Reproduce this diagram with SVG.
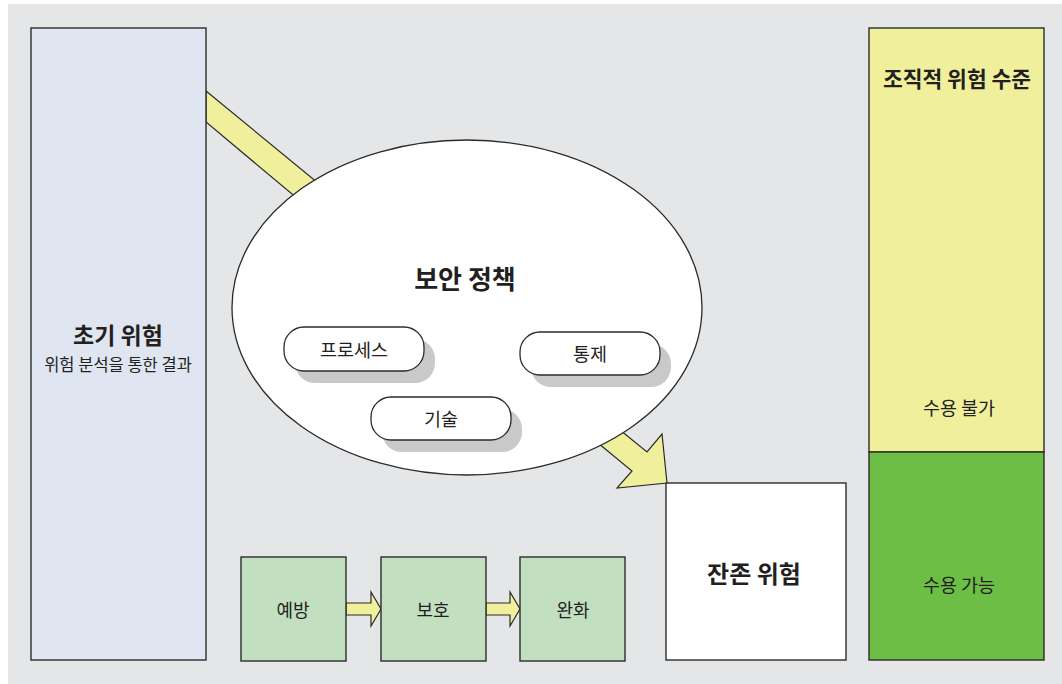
<svg xmlns="http://www.w3.org/2000/svg" width="1062" height="684" viewBox="0 0 1062 684">
<style>
.box{stroke:#2b2b2b;stroke-width:1.4}
.arrow{fill:#f0f09c;stroke:#2b2b2b;stroke-width:1.2;stroke-linejoin:miter}
.pill{fill:#ffffff;stroke:#2b2b2b;stroke-width:1.3}
.shadow{fill:#c8c9cb}
text{font-family:"Noto Sans CJK KR","Noto Sans",sans-serif;fill:#231f20;text-anchor:middle;dominant-baseline:central}
.b{font-weight:bold}
</style>
<rect x="0" y="0" width="1062" height="684" fill="#ffffff"/>
<rect x="8" y="4" width="1054" height="680" fill="#e5e6e8"/>

<g id="connectors">
  <polygon class="arrow" points="206,91 318,183 298,199 206,122"/>
  <polygon class="arrow" points="620,430 647,452 662,434 667,483 617,488 632,471 598,443"/>
  <polygon class="arrow" points="346,603 371,603 371,592 381,609 371,626 371,615 346,615"/>
  <polygon class="arrow" points="486,603 510,603 510,592 520,609 510,626 510,615 486,615"/>
</g>

<g id="initial-risk">
  <rect class="box" x="31" y="28" width="175" height="632" fill="#e0e6f1"/>
  <text class="b" x="118" y="334" font-size="23">초기 위험</text>
  <text x="118" y="364" font-size="16.5">위험 분석을 통한 결과</text>
</g>

<g id="security-policy">
  <ellipse cx="467" cy="307.5" rx="235" ry="167.5" fill="#ffffff" stroke="#2b2b2b" stroke-width="1.3"/>
  <text class="b" x="465" y="277" font-size="26">보안 정책</text>
</g>

<g id="process">
  <rect class="shadow" x="295" y="339" width="140" height="44" rx="20"/>
  <rect class="pill" x="284" y="327" width="140" height="44" rx="20"/>
  <text x="354" y="349" font-size="18.5">프로세스</text>
</g>

<g id="control">
  <rect class="shadow" x="531" y="344" width="140" height="43" rx="20"/>
  <rect class="pill" x="520" y="332" width="140" height="43" rx="20"/>
  <text x="590" y="353" font-size="18.5">통제</text>
</g>

<g id="technology">
  <rect class="shadow" x="382" y="409" width="140" height="43" rx="20"/>
  <rect class="pill" x="371" y="397" width="140" height="43" rx="20"/>
  <text x="441" y="418" font-size="18.5">기술</text>
</g>

<g id="residual-risk">
  <rect class="box" x="666" y="483" width="180" height="177" fill="#ffffff"/>
  <text class="b" x="754" y="572" font-size="24">잔존 위험</text>
</g>

<g id="prevention">
  <rect class="box" x="241" y="557" width="105" height="104" fill="#c2e0c0"/>
  <text x="293" y="609" font-size="18">예방</text>
</g>
<g id="protection">
  <rect class="box" x="381" y="557" width="105" height="104" fill="#c2e0c0"/>
  <text x="433" y="609" font-size="18">보호</text>
</g>
<g id="mitigation">
  <rect class="box" x="520" y="557" width="105" height="104" fill="#c2e0c0"/>
  <text x="573" y="609" font-size="18">완화</text>
</g>

<g id="org-risk-level">
  <rect class="box" x="869" y="28" width="175" height="424" fill="#f0f09c"/>
  <text class="b" x="957" y="77" font-size="21.5">조직적 위험 수준</text>
  <text x="959" y="407" font-size="18.5">수용 불가</text>
</g>
<g id="acceptable">
  <rect class="box" x="869" y="452" width="175" height="208" fill="#6dbe45"/>
  <text x="959" y="584" font-size="18.5">수용 가능</text>
</g>
</svg>
